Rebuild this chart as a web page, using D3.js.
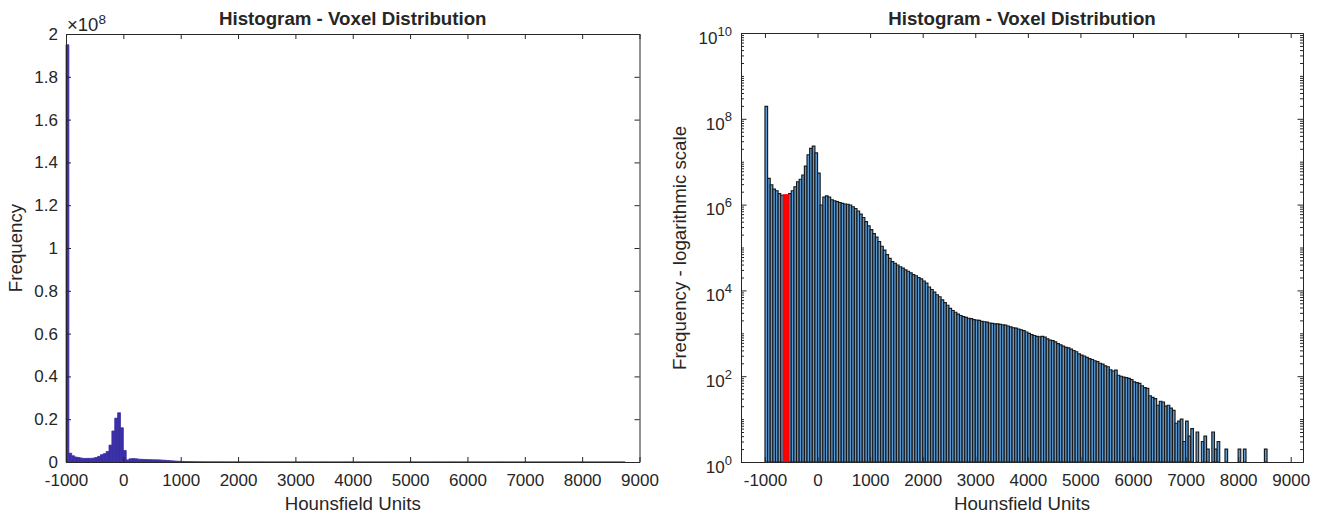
<!DOCTYPE html>
<html>
<head>
<meta charset="utf-8">
<style>
  body { margin: 0; background: #fff; }
  text { font-family: "Liberation Sans", Arial, sans-serif; fill: #262626; }
</style>
</head>
<body>
<div id="chart"></div>

<script src="https://d3js.org/d3.v7.min.js"></script>
<script>

	// histogram bins: 50 HU wide, first bin starts at -1000
	var binStart = -1000, binWidth = 50;

	// voxel counts per bin
	var counts = [
		1.95e8, 4.1e6, 2.9e6, 2.3e6, 2.1e6, 1.8e6, 1.65e6, 1.7e6, 1.7e6, 1.8e6,
		2.1e6, 2.6e6, 3.4e6, 3.9e6, 4.9e6, 7.9e6, 1.45e7, 2.05e7, 2.3e7, 1.6e7,
		5.4e6, 9.8e5, 1.5e6, 1.6e6, 1.5e6, 1.3e6, 1.23e6, 1.17e6, 1.12e6, 1.07e6,
		1.03e6, 1.02e6, 9.8e5, 8.9e5, 8.1e5, 7.1e5, 6.0e5, 5.0e5, 4.0e5, 3.2e5,
		2.6e5, 2.1e5, 1.74e5, 1.38e5, 1.07e5, 8.7e4, 6.8e4, 5.6e4, 4.7e4, 4.3e4,
		3.9e4, 3.55e4, 3.3e4, 3.0e4, 2.8e4, 2.57e4, 2.34e4, 2.19e4, 2.0e4, 1.86e4,
		1.66e4, 1.48e4, 1.2e4, 1.05e4, 9100, 7900, 7100, 6000, 5200, 4500,
		3800, 3400, 3100, 2800, 2600, 2450, 2350, 2240, 2190, 2090,
		2040, 2000, 1900, 1860, 1820, 1740, 1700, 1660, 1660, 1620,
		1580, 1550, 1480, 1410, 1350, 1320, 1260, 1200, 1150, 1070,
		1000, 933, 891, 851, 832, 851, 813, 741, 692, 676,
		631, 575, 537, 501, 468, 457, 427, 398, 372, 331,
		309, 295, 275, 257, 245, 229, 219, 200, 191, 174,
		166, 141, 132, 138, 105, 100, 95, 93, 89, 83,
		74, 71, 68, 60, 54, 52, 35, 32, 30, 21,
		26, 25, 20, 21, 18, 16, 8, 9, 10, 3,
		9, 4, 6, 0, 5, 0, 3, 4, 2, 0,
		5, 2, 3, 0, 0, 2, 0, 0, 0, 0,
		2, 0, 2, 0, 0, 0, 0, 0, 0, 0,
		2, 0, 0, 0, 0
	];

	// bins highlighted in red on the log plot
	var redBins = [7, 8];

	// tick values
	var huTicks = [-1000, 0, 1000, 2000, 3000, 4000, 5000, 6000, 7000, 8000, 9000];
	var linTicks = [0, 0.2, 0.4, 0.6, 0.8, 1, 1.2, 1.4, 1.6, 1.8, 2];
	var logLabelPowers = [0, 2, 4, 6, 8, 10];

	var w = 1320, h = 515;
	var axisColor = "#262626";
	var plain = function(d) { return String(d); };

	var svg = d3.select("#chart")
				.append("svg")
				.attr("width", w)
				.attr("height", h);

	var bins = counts.map(function(c, i) {
		return {
			lo: binStart + i * binWidth,
			hi: binStart + (i + 1) * binWidth,
			n: c,
			red: redBins.indexOf(i) >= 0
		};
	});

	// ---------- left: linear histogram ----------
	var xL = d3.scaleLinear().domain([-1000, 9000]).range([66, 639.5]),
		yL = d3.scaleLinear().domain([0, 2]).range([462, 34]);

	svg.append("g")
	   .selectAll("path")
	   .data(bins)
	   .enter()
	   .append("path")
	   .attr("d", function(d) {
	   	var x0 = xL(d.lo), x1 = xL(d.hi), y0 = yL(0), y1 = yL(d.n / 1e8);
	   	return "M" + x0 + "," + y0 + "V" + y1 + "H" + x1 + "V" + y0 + "Z";
	   })
	   .attr("fill", "#3b2fa6")
	   .attr("stroke", "#3b2fa6")
	   .attr("stroke-width", 0.8);

	// ---------- right: log histogram ----------
	var xR = d3.scaleLinear().domain([-1456, 9234]).range([741, 1303]),
		yR = d3.scaleLog().domain([1, 1e10]).range([462, 33]);

	var shown = bins.filter(function(d) { return d.n >= 1; })
					.sort(function(a, b) { return a.red - b.red; });

	svg.append("g")
	   .selectAll("path")
	   .data(shown)
	   .enter()
	   .append("path")
	   .attr("d", function(d) {
	   	var x0 = xR(d.lo), x1 = xR(d.hi), y0 = yR(1), y1 = yR(d.n);
	   	return "M" + x0 + "," + y0 + "V" + y1 + "H" + x1 + "V" + y0 + "Z";
	   })
	   .attr("fill", function(d) { return d.red ? "#ff0000" : "#5a9bd5"; })
	   .attr("stroke", function(d) { return d.red ? "#ff0000" : "#1a1a1a"; })
	   .attr("stroke-width", 1.15);

	// ---------- axes ----------
	function styleAxis(g) {
		g.attr("font-size", 17).attr("font-family", null);
		g.selectAll("path.domain").attr("stroke", axisColor);
		g.selectAll(".tick line").attr("stroke", axisColor);
		g.selectAll(".tick text").attr("fill", axisColor);
	}

	// left box
	svg.append("g").attr("transform", "translate(0,462)")
	   .call(d3.axisBottom(xL).tickValues(huTicks).tickSizeInner(-5).tickSizeOuter(0).tickPadding(12).tickFormat(plain))
	   .call(styleAxis);
	svg.append("g").attr("transform", "translate(0,34)")
	   .call(d3.axisTop(xL).tickValues(huTicks).tickSizeInner(-5).tickSizeOuter(0).tickFormat(""))
	   .call(styleAxis);
	svg.append("g").attr("transform", "translate(66,0)")
	   .call(d3.axisLeft(yL).tickValues(linTicks).tickSizeInner(-5).tickSizeOuter(0).tickPadding(8).tickFormat(plain))
	   .call(styleAxis);
	svg.append("g").attr("transform", "translate(639.5,0)")
	   .call(d3.axisRight(yL).tickValues(linTicks).tickSizeInner(-5).tickSizeOuter(0).tickFormat(""))
	   .call(styleAxis);

	// right box
	var logMajor = logLabelPowers.map(function(p) { return Math.pow(10, p); });
	var logMinor = [];
	for (var p = 0; p < 10; p++) {
		for (var m = 1; m <= 9; m++) {
			var v = m * Math.pow(10, p);
			if (logMajor.indexOf(v) < 0) logMinor.push(v);
		}
	}

	svg.append("g").attr("transform", "translate(0,462)")
	   .call(d3.axisBottom(xR).tickValues(huTicks).tickSizeInner(-5).tickSizeOuter(0).tickPadding(12).tickFormat(plain))
	   .call(styleAxis);
	svg.append("g").attr("transform", "translate(0,33)")
	   .call(d3.axisTop(xR).tickValues(huTicks).tickSizeInner(-5).tickSizeOuter(0).tickFormat(""))
	   .call(styleAxis);

	var yLeftR = svg.append("g").attr("transform", "translate(741,0)")
	   .call(d3.axisLeft(yR).tickValues(logMajor).tickSizeInner(-5.5).tickSizeOuter(0).tickPadding(9).tickFormat(""))
	   .call(styleAxis);
	svg.append("g").attr("transform", "translate(741,0)")
	   .call(d3.axisLeft(yR).tickValues(logMinor).tickSizeInner(-3).tickSizeOuter(0).tickFormat(""))
	   .call(styleAxis);
	svg.append("g").attr("transform", "translate(1303,0)")
	   .call(d3.axisRight(yR).tickValues(logMajor).tickSizeInner(-5.5).tickSizeOuter(0).tickFormat(""))
	   .call(styleAxis);
	svg.append("g").attr("transform", "translate(1303,0)")
	   .call(d3.axisRight(yR).tickValues(logMinor).tickSizeInner(-3).tickSizeOuter(0).tickFormat(""))
	   .call(styleAxis);

	// 10^n labels with superscripts
	yLeftR.selectAll(".tick text")
		  .attr("dy", "0.6em")
		  .each(function(d) {
		  	var t = d3.select(this);
		  	t.append("tspan").text("10");
		  	t.append("tspan").attr("dy", "-0.62em").attr("font-size", 13).text(Math.round(Math.log10(d)));
		  });

	// exponent marker on the linear plot
	var expo = svg.append("text").attr("x", 67).attr("y", 31).attr("font-size", 18.5);
	expo.append("tspan").text("\u00d710");
	expo.append("tspan").attr("dy", "-0.55em").attr("font-size", 13.5).text("8");

	// titles and axis labels
	svg.append("text").attr("x", 352.75).attr("y", 25).attr("text-anchor", "middle")
	   .attr("font-size", 18.7).attr("font-weight", "bold").attr("fill", "#000")
	   .text("Histogram - Voxel Distribution");
	svg.append("text").attr("x", 1022).attr("y", 25).attr("text-anchor", "middle")
	   .attr("font-size", 18.7).attr("font-weight", "bold").attr("fill", "#000")
	   .text("Histogram - Voxel Distribution");

	svg.append("text").attr("x", 352.75).attr("y", 510).attr("text-anchor", "middle")
	   .attr("font-size", 18.7).text("Hounsfield Units");
	svg.append("text").attr("x", 1022).attr("y", 510).attr("text-anchor", "middle")
	   .attr("font-size", 18.7).text("Hounsfield Units");

	svg.append("text").attr("transform", "translate(22,248) rotate(-90)").attr("text-anchor", "middle")
	   .attr("font-size", 18.7).text("Frequency");
	svg.append("text").attr("transform", "translate(686,248) rotate(-90)").attr("text-anchor", "middle")
	   .attr("font-size", 18.7).text("Frequency - logarithmic scale");

</script>
</body>
</html>
